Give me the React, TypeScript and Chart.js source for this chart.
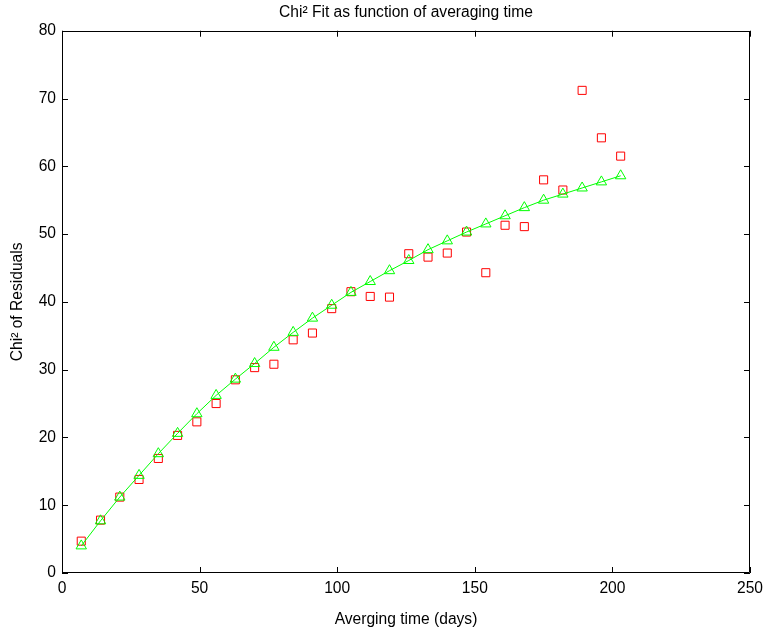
import React, { useEffect, useRef } from "react";
import { Chart, registerables } from "chart.js";

Chart.register(...registerables);

const days = [7, 14, 21, 28, 35, 42, 49, 56, 63, 70, 77, 84, 91, 98, 105, 112, 119, 126, 133, 140, 147, 154, 161, 168, 175, 182, 189, 196, 203];
const chi2Residuals = [4.7, 7.8, 11.2, 13.8, 16.9, 20.3, 22.3, 25.0, 28.5, 30.3, 30.8, 34.4, 35.4, 39.0, 41.5, 40.8, 40.7, 47.1, 46.6, 47.2, 50.3, 44.3, 51.3, 51.1, 58.0, 56.5, 71.2, 64.2, 61.5];
const chi2Fit = [4.0, 7.7, 11.2, 14.4, 17.6, 20.6, 23.5, 26.2, 28.6, 30.9, 33.3, 35.5, 37.6, 39.5, 41.4, 43.0, 44.6, 46.1, 47.7, 49.0, 50.3, 51.5, 52.7, 53.9, 55.0, 55.9, 56.8, 57.7, 58.6];
const xTicks = [0, 50, 100, 150, 200, 250];
const yTicks = [0, 10, 20, 30, 40, 50, 60, 70, 80];

const FONT = "'Liberation Sans', Arial, Helvetica, sans-serif";
const FS = 15.6;

const boxTicksPlugin = {
  id: "boxTicks",
  afterDraw(chart: any) {
    const { ctx, chartArea } = chart;
    const { left, right, top, bottom } = chartArea;
    const xs = chart.scales.x;
    const ys = chart.scales.y;
    const len = 6;
    ctx.save();
    ctx.strokeStyle = "#000";
    ctx.lineWidth = 1;
    ctx.beginPath();
    ctx.rect(Math.round(left) + 0.5, Math.round(top) + 0.5, Math.round(right - left) - 1, Math.round(bottom - top) - 1);
    ctx.stroke();
    ctx.beginPath();
    for (const v of xTicks) {
      const px = Math.round(xs.getPixelForValue(v)) + 0.5;
      ctx.moveTo(px, bottom);
      ctx.lineTo(px, bottom - len);
      ctx.moveTo(px, top);
      ctx.lineTo(px, top + len);
    }
    for (const v of yTicks) {
      const py = Math.round(ys.getPixelForValue(v)) + 0.5;
      ctx.moveTo(left, py);
      ctx.lineTo(left + len, py);
      ctx.moveTo(right, py);
      ctx.lineTo(right - len, py);
    }
    ctx.stroke();
    ctx.restore();
  },
};

export default function App() {
  const ref = useRef<HTMLCanvasElement | null>(null);

  useEffect(() => {
    if (!ref.current) return;
    const chart = new Chart(ref.current, {
      type: "line",
      data: {
        datasets: [
          {
            label: "Fit",
            data: days.map((d, i) => ({ x: d, y: chi2Fit[i] })),
            borderColor: "#00ff00",
            borderWidth: 1,
            pointStyle: "triangle",
            pointRadius: 6,
            pointBorderColor: "#00ff00",
            pointBackgroundColor: "rgba(0,0,0,0)",
            pointBorderWidth: 1,
            tension: 0,
            fill: false,
          },
          {
            label: "Residuals",
            data: days.map((d, i) => ({ x: d, y: chi2Residuals[i] })),
            showLine: false,
            pointStyle: "rect",
            pointRadius: 5.7,
            pointBorderColor: "#ff0000",
            pointBackgroundColor: "rgba(0,0,0,0)",
            pointBorderWidth: 1,
            borderColor: "#ff0000",
            fill: false,
          },
        ],
      },
      options: {
        animation: false,
        responsive: false,
        devicePixelRatio: 1,
        layout: { padding: { left: 0, right: 14, top: 0, bottom: 0 } },
        plugins: {
          legend: { display: false },
          tooltip: { enabled: false },
          title: {
            display: true,
            fullSize: false,
            text: "Chi² Fit as function of averaging time",
            color: "#000",
            font: { family: FONT, size: FS, weight: "normal" },
            padding: { top: 3, bottom: 9 },
          },
        },
        scales: {
          x: {
            type: "linear",
            min: 0,
            max: 250,
            afterBuildTicks: (scale: any) => {
              scale.ticks = xTicks.map((v) => ({ value: v }));
            },
            ticks: { color: "#000", font: { family: FONT, size: FS }, padding: 6, maxRotation: 0, autoSkip: false },
            grid: { display: true, drawOnChartArea: false, drawTicks: false },
            border: { display: false },
            title: {
              display: true,
              text: "Averging time (days)",
              color: "#000",
              font: { family: FONT, size: FS },
              padding: { top: 0, bottom: 3 },
            },
            afterFit: (scale: any) => {
              scale.height = 59;
              scale.paddingLeft = 0;
              scale.paddingRight = 0;
            },
          },
          y: {
            type: "linear",
            min: 0,
            max: 80,
            afterBuildTicks: (scale: any) => {
              scale.ticks = yTicks.map((v) => ({ value: v }));
            },
            ticks: { color: "#000", font: { family: FONT, size: FS }, padding: 6, autoSkip: false },
            grid: { display: true, drawOnChartArea: false, drawTicks: false },
            border: { display: false },
            title: {
              display: true,
              text: "Chi² of Residuals",
              color: "#000",
              font: { family: FONT, size: FS },
              padding: { top: 8, bottom: 0 },
            },
            afterFit: (scale: any) => {
              scale.width = 62;
              scale.paddingTop = 0;
              scale.paddingBottom = 0;
            },
          },
        },
      },
      plugins: [boxTicksPlugin],
    });
    return () => chart.destroy();
  }, []);

  return (
    <div style={{ position: "fixed", left: 0, top: 0, width: 764, height: 632, background: "#fff" }}>
      <canvas ref={ref} width={764} height={632} style={{ width: 764, height: 632 }} />
    </div>
  );
}
